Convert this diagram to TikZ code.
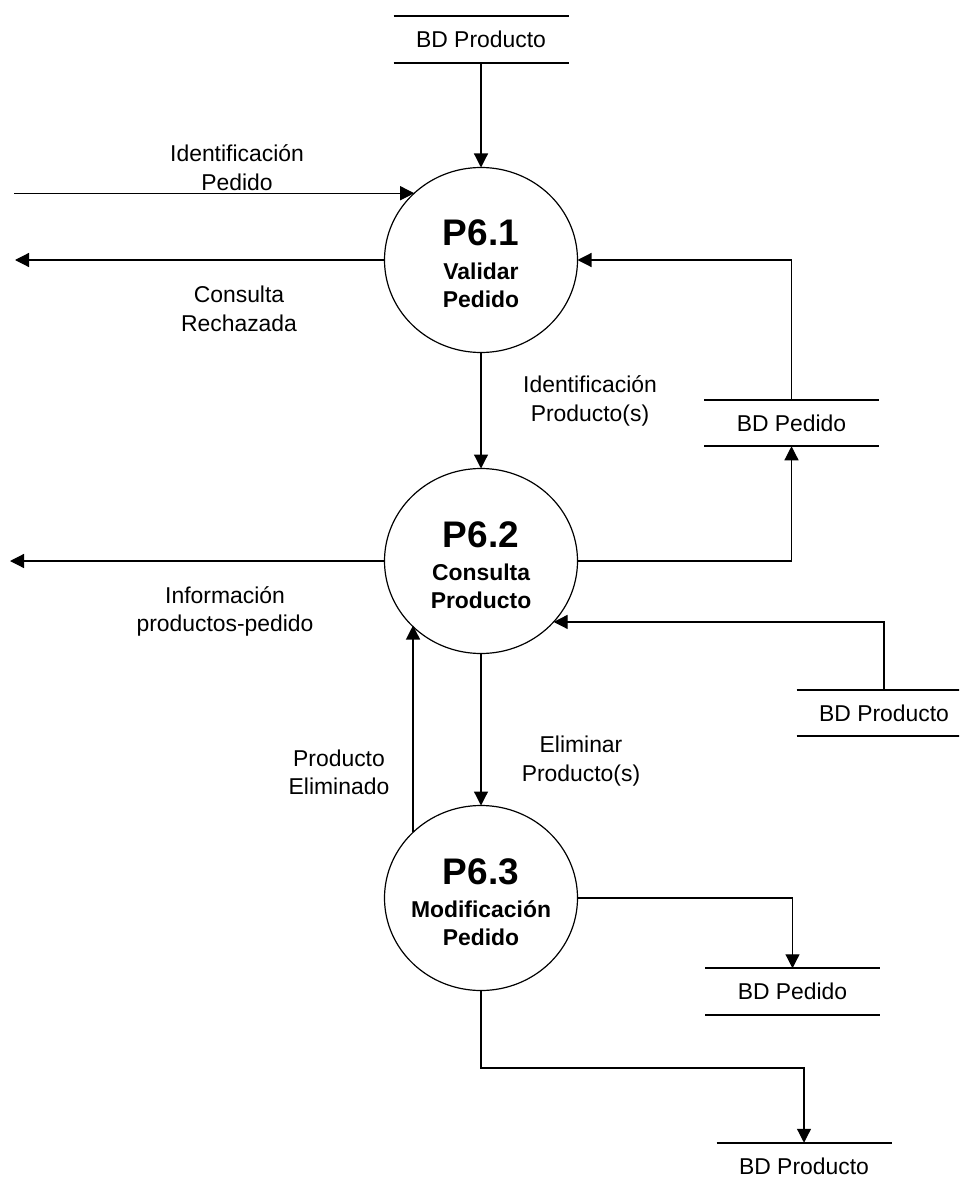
\documentclass[tikz,border=0pt]{standalone}
\usepackage{fontspec}
\setmainfont{Liberation Sans}
\usetikzlibrary{arrows.meta,shapes.geometric}
\begin{document}
\begin{tikzpicture}[x=0.5pt,y=-0.5pt,
  flow/.style={draw, line width=0.6pt, -{Triangle[length=7pt,width=7pt]}},
  proc/.style={ellipse, draw, line width=0.6pt, minimum width=96.5pt,
    minimum height=92.5pt, inner sep=0pt, outer sep=0pt},
  store/.style={rectangle, minimum width=87.5pt, minimum height=23.25pt,
    inner sep=0pt, outer sep=0pt, font=\fontsize{11.45}{14}\selectfont},
  storeline/.style={line width=1pt},
  lbl/.style={align=center, inner sep=0pt, font=\fontsize{11.45}{14.25}\selectfont},
  pid/.style={anchor=base, inner sep=0pt, font=\fontsize{18.5}{20}\selectfont\bfseries},
  pname/.style={anchor=base, inner sep=0pt, font=\fontsize{11.45}{14}\selectfont\bfseries},
]
\useasboundingbox (0,0) rectangle (959,1182);
\clip (0,0) rectangle (959,1182);

% processes
\node[proc] (p1) at (481,260) {};
\node[proc] (p2) at (481,561) {};
\node[proc] (p3) at (481,898) {};

\node[pid]   (p1id) at (481,246) {P6.1};
\node[pname] (p1a)  at (481,279) {Validar};
\node[pname] (p1b)  at (481,307) {Pedido};

\node[pid]   (p2id) at (481,547) {P6.2};
\node[pname] (p2a)  at (481,580) {Consulta};
\node[pname] (p2b)  at (481,608) {Producto};

\node[pid]   (p3id) at (481,884) {P6.3};
\node[pname] (p3a)  at (481,917) {Modificación};
\node[pname] (p3b)  at (481,945) {Pedido};

% data stores
\node[store] (s1) at (481,39.5)  {BD Producto};
\node[store] (s2) at (791.5,423) {BD Pedido};
\node[store] (s3) at (884,713)   {BD Producto};
\node[store] (s4) at (792.5,991.5) {BD Pedido};
\node[store] (s5) at (804,1166)  {BD Producto};
\foreach \s in {s1,s2,s3,s4,s5}{
  \draw[storeline] (\s.north west) -- (\s.north east)
                   (\s.south west) -- (\s.south east);
}

% free ends of external flows
\coordinate (in1)  at (14,0);
\coordinate (out1) at (15,0);
\coordinate (out2) at (10,0);
\coordinate (j1)   at (0,1068);

% flows
\draw[flow] (s1.south) -- (p1.north);
\draw[flow] (p1.135.7 -| in1) -- (p1.135.7);
\draw[flow] (p1.west) -- (p1.west -| out1);
\draw[flow] (s2.north) |- (p1.east);
\draw[flow] (p1.south) -- (p2.north);
\draw[flow] (p2.east) -| (s2.south);
\draw[flow] (p2.west) -- (p2.west -| out2);
\draw[flow] (s3.north) |- (p2.-40.3);
\draw[flow] (p3.136.3) -- (p3.136.3 |- p2.223.7);
\draw[flow] (p2.south) -- (p3.north);
\draw[flow] (p3.east) -| (s4.north);
\draw[flow] (p3.south) -- (p3.south |- j1) -| (s5.north);

% flow labels
\node[lbl] (l1) at (237,167.5) {Identificación\\Pedido};
\node[lbl] (l2) at (239,309)   {Consulta\\Rechazada};
\node[lbl] (l3) at (590,401)   {Identificación\\Producto(s)};
\node[lbl] (l4) at (225,611.5) {Información\\productos-pedido};
\node[lbl] (l5) at (339,772.5) {Producto\\Eliminado};
\node[lbl] (l6) at (581,761)   {Eliminar\\Producto(s)};
\end{tikzpicture}
\end{document}
